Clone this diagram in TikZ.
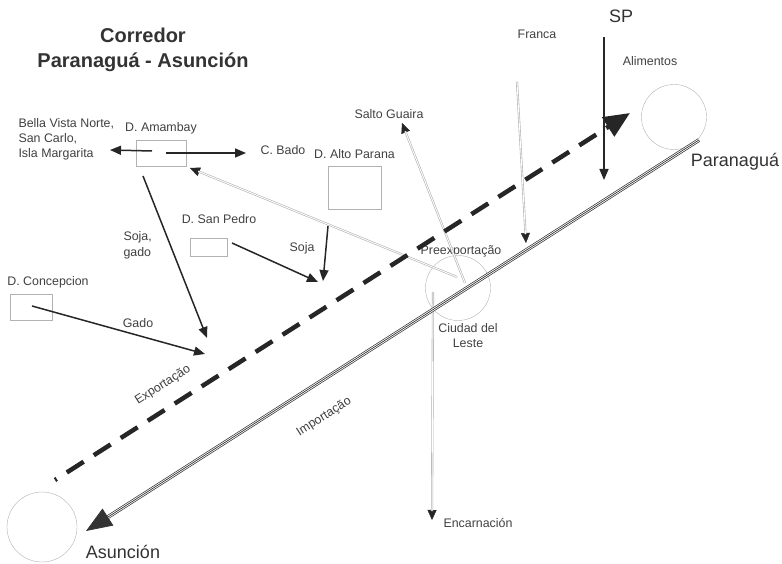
\documentclass[tikz,border=0pt]{standalone}
\usepackage{fontspec}
\setmainfont{Liberation Sans}
\usetikzlibrary{arrows.meta, positioning}

\tikzset{
  lbl/.style      = {text=black!75, font=\fontsize{12.4}{15}\selectfont},
  bigname/.style  = {text=black!80, font=\fontsize{18}{22}\selectfont},
  city/.style     = {draw=black!30, circle, inner sep=0pt},
  dept/.style     = {draw=black!30, rectangle, inner sep=0pt},
  flow/.style     = {draw=black!85, line width=1.5pt, -{Triangle[length=11pt, width=9pt]}},
  headonly/.style = {draw=black!85, line width=0.4pt, -{Triangle[length=10pt, width=9pt]}},
  via/.style      = {draw=black!30, double=white, double distance=0.9pt, line width=0.6pt, shorten >=9pt},
  rail/.style     = {draw=black!80, double=white, double distance=2.4pt, line width=0.7pt, shorten >=22pt},
}

\begin{document}
\begin{tikzpicture}[x=1pt, y=-1pt]

\useasboundingbox (0,0) rectangle (782,564);

\node [text=black!80, font=\bfseries\fontsize{20}{25}\selectfont, align=center] (title) at (143,50) {Corredor\\Paranaguá - Asunción};

\node [city, minimum size=65pt] (par) at (674,117) {};
\node [city, minimum size=70pt] (asu) at (42,527)  {};
\node [city, minimum size=65pt] (cde) at (458,288) {};

\node [bigname] (parl) at (735,162) {Paranaguá};
\node [bigname] (asul) at (123,552) {Asunción};
\node [bigname] (spl)  at (621,16)  {SP};

\node [dept, minimum width=50pt, minimum height=26pt] (am)  at (161,153)   {};
\node [dept, minimum width=53pt, minimum height=43pt] (ap)  at (354.5,187.5) {};
\node [dept, minimum width=37pt, minimum height=18pt] (spd) at (208.5,247) {};
\node [dept, minimum width=42pt, minimum height=26pt] (dc)  at (31,307)    {};

\node [lbl, above=2pt of am] (aml) {D. Amambay};
\node [lbl, above=4pt of ap] (apl) {D. Alto Parana};
\node [lbl] (spdl) at (219,219) {D. San Pedro};
\node [lbl] (dcl)  at (48,282)  {D. Concepcion};

\node [lbl, anchor=west, align=left] (bvl) at (15,139) {Bella Vista Norte,\\San Carlo,\\Isla Margarita};
\node [lbl] (cbl)  at (283,150) {C. Bado};
\node [lbl] (sgl)  at (389,114) {Salto Guaira};
\node [lbl] (frl)  at (537,34)  {Franca};
\node [lbl] (all)  at (650,61)  {Alimentos};
\node [lbl] (prel) at (461,251) {Preexportação};
\node [lbl, align=center] (cdel) at (468,336) {Ciudad del\\Leste};
\node [lbl] (enl)  at (478,523) {Encarnación};
\node [lbl, anchor=west, align=left, font=\fontsize{12.4}{16}\selectfont] (sgdl) at (120,245) {Soja,\\gado};
\node [lbl] (sjl)  at (302,248) {Soja};
\node [lbl] (gdl)  at (138,323) {Gado};
\node [lbl, rotate=32.5] (expl) at (163,385) {Exportação};
\node [lbl, rotate=32.5] (impl) at (324,417) {Importação};

\coordinate (am-w)   at (152,151);
\coordinate (am-e)   at (166,153);
\coordinate (am-s)   at (143,176);
\coordinate (am-c)   at (190,168);
\coordinate (bv)     at (110,150);
\coordinate (cb)     at (246,153);
\coordinate (sg-end) at (207,338);
\coordinate (spd-o)  at (232,243);
\coordinate (spd-t)  at (318,282);
\coordinate (ap-o)   at (328,226);
\coordinate (ap-t)   at (323,281);
\coordinate (dc-o)   at (32,306);
\coordinate (dc-t)   at (205,354);
\coordinate (exp-o)  at (55,480);
\coordinate (exp-t)  at (630,113);
\coordinate (imp-o)  at (699,140);
\coordinate (imp-t)  at (86,531);
\coordinate (fr-o)   at (517,82);
\coordinate (fr-t)   at (526,243);
\coordinate (sp-o)   at (604,37);
\coordinate (sp-t)   at (604,180);
\coordinate (cde-n)  at (465,283);
\coordinate (cde-w)  at (457,277);
\coordinate (cde-s)  at (433,292);
\coordinate (sg-t)   at (402,123);
\coordinate (en-t)   at (432,520);

\path [draw, flow] (am-w) -- (bv);
\path [draw, flow] (am-e) -- (cb);
\path [draw, flow] (am-s) -- (sg-end);
\path [draw, flow] (spd-o) -- (spd-t);
\path [draw, flow] (ap-o) -- (ap-t);
\path [draw, flow] (dc-o) -- (dc-t);

\path [draw, headonly] (cde-w) -- (am-c);
\path [draw, via]      (cde-w) -- (am-c);
\path [draw, headonly] (cde-n) -- (sg-t);
\path [draw, via]      (cde-n) -- (sg-t);
\path [draw, headonly] (cde-s) -- (en-t);
\path [draw, via]      (cde-s) -- (en-t);
\path [draw, headonly] (fr-o) -- (fr-t);
\path [draw, via]      (fr-o) -- (fr-t);

\path [draw, black!85, line width=4.5pt, dash pattern=on 20pt off 12pt, dash phase=18pt, -{Triangle[length=26pt, width=22pt]}] (exp-o) -- (exp-t);

\path [draw, flow] (sp-o) -- (sp-t);

\path [draw, rail] (imp-o) -- (imp-t);
\path [draw, black!80, line width=0.7pt, -{Triangle[length=26pt, width=20pt]}] (imp-o) -- (imp-t);

\end{tikzpicture}
\end{document}
